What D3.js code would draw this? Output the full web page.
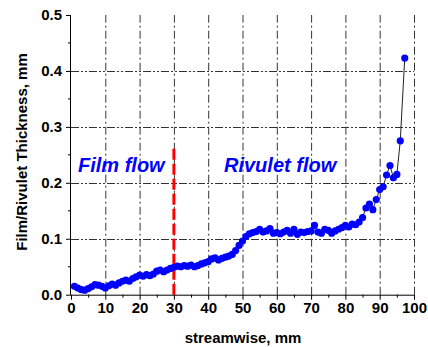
<!DOCTYPE html>
<html><head><meta charset="utf-8">
<script src="https://cdn.jsdelivr.net/npm/d3@7"></script>
<style>body{margin:0;background:#fff}svg{display:block}text{font-family:"Liberation Sans",Arial,sans-serif}</style>
</head><body>
<svg id="c" width="428" height="347"></svg>
<script>
const xPos = [1,2,3,4,5,6,7,8,9,10,11,12,13,14,15,16,17,18,19,20,21,22,23,24,25,26,27,28,29,30,31,32,33,34,35,36,37,38,39,40,41,42,43,44,45,46,47,48,49,50,51,52,53,54,55,56,57,58,59,60,61,62,63,64,65,66,67,68,69,70,71,72,73,74,75,76,77,78,79,80,81,82,83,84,85,86,87,88,89,90,91,92,93,94,95,96,97.3];
const thickness = [0.015,0.012,0.009,0.008,0.011,0.014,0.018,0.017,0.015,0.012,0.016,0.019,0.017,0.021,0.024,0.026,0.024,0.029,0.032,0.035,0.033,0.036,0.034,0.037,0.042,0.044,0.041,0.044,0.047,0.049,0.051,0.050,0.052,0.051,0.053,0.050,0.052,0.055,0.057,0.059,0.064,0.066,0.062,0.065,0.067,0.069,0.072,0.079,0.088,0.096,0.104,0.109,0.111,0.113,0.117,0.112,0.114,0.118,0.110,0.111,0.109,0.112,0.115,0.110,0.117,0.108,0.112,0.111,0.113,0.114,0.124,0.112,0.110,0.117,0.115,0.110,0.114,0.117,0.120,0.124,0.121,0.126,0.125,0.130,0.138,0.155,0.162,0.152,0.170,0.188,0.193,0.214,0.231,0.209,0.215,0.275,0.423];
const xTicks = [0,10,20,30,40,50,60,70,80,90,100];
const xMinor = [5,15,25,35,45,55,65,75,85,95];
const yTicks = [0,0.1,0.2,0.3,0.4,0.5];
const yMinor = [0.05,0.15,0.25,0.35,0.45];
const xGrid = [10,20,30,40,50,60,70,80,90,100];
const yGrid = [0.1,0.2,0.3,0.4];
const boundaryX = 30, boundaryTop = 0.267;
const labels = {y:"Film/Rivulet Thickness, mm", x:"streamwise, mm", film:"Film flow", rivulet:"Rivulet flow"};

const svg = d3.select("#c");
const x = d3.scaleLinear().domain([0,100]).range([71,414]);
const y = d3.scaleLinear().domain([0,0.5]).range([294.7,15]);

// grid
svg.append("g").selectAll("line").data(xGrid).join("line")
  .attr("x1",d=>x(d)+0.5).attr("x2",d=>x(d)+0.5).attr("y1",y(0)).attr("y2",y(0.5))
  .attr("stroke","#333").attr("stroke-width",1).attr("stroke-dasharray","8,3,2,3");
svg.append("g").selectAll("line").data(yGrid).join("line")
  .attr("x1",x(0)).attr("x2",x(100)).attr("y1",d=>Math.round(y(d))+0.5).attr("y2",d=>Math.round(y(d))+0.5)
  .attr("stroke","#333").attr("stroke-width",1).attr("stroke-dasharray","8,2,2,2,2,2");

// axes
const xAxis = d3.axisBottom(x).tickValues(xTicks).tickSize(5).tickPadding(3).tickFormat(d3.format("d"));
const gx = svg.append("g").attr("transform",`translate(0,${y(0)})`).call(xAxis);
gx.append("g").selectAll("line").data(xMinor).join("line")
  .attr("x1",d=>x(d)+0.5).attr("x2",d=>x(d)+0.5).attr("y1",0).attr("y2",3).attr("stroke","#000");
const yAxis = d3.axisLeft(y).tickValues(yTicks).tickSize(5).tickPadding(4).tickFormat(d3.format(".1f"));
const gy = svg.append("g").attr("transform",`translate(${x(0)},0)`).call(yAxis);
gy.append("g").selectAll("line").data(yMinor).join("line")
  .attr("x1",-3).attr("x2",0).attr("y1",d=>y(d)).attr("y2",d=>y(d)).attr("stroke","#000");
[gx,gy].forEach(g=>{
  g.select(".domain").attr("stroke","#000");
  g.selectAll(".tick line").attr("stroke","#000");
  g.selectAll(".tick text").attr("font-size",15).attr("font-weight","bold").attr("fill","#000")
   .attr("font-family","'Liberation Sans',Arial,sans-serif");
});
gx.select(".domain").attr("d",`M${x(0)},0.5H${x(100)}`);
gy.select(".domain").attr("d",`M-0.5,${y(0)}V${y(0.5)}`);

// boundary
svg.append("line").attr("x1",x(boundaryX)).attr("x2",x(boundaryX))
  .attr("y1",y(0)).attr("y2",y(boundaryTop))
  .attr("stroke","#ff0000").attr("stroke-width",3).attr("stroke-dasharray","11,4");

// data
const pts = xPos.map((d,i)=>[d,thickness[i]]);
svg.append("path").datum(pts).attr("fill","none").attr("stroke","#222").attr("stroke-width",1)
  .attr("d",d3.line().x(d=>x(d[0])).y(d=>y(d[1])));
svg.append("g").selectAll("circle").data(pts).join("circle")
  .attr("cx",d=>x(d[0])).attr("cy",d=>y(d[1])).attr("r",3.6).attr("fill","#0000ff");

// text
svg.append("text").attr("x",78).attr("y",171.5).attr("font-size",20).attr("font-weight","bold")
  .attr("font-style","italic").attr("fill","#0000ff").text(labels.film);
svg.append("text").attr("x",224).attr("y",171.5).attr("font-size",20).attr("font-weight","bold")
  .attr("font-style","italic").attr("fill","#0000ff").text(labels.rivulet);
svg.append("text").attr("x",243).attr("y",343).attr("text-anchor","middle").attr("font-size",15)
  .attr("font-weight","bold").attr("fill","#000").text(labels.x);
svg.append("text").attr("transform","translate(27,152) rotate(-90)").attr("text-anchor","middle")
  .attr("font-size",15).attr("font-weight","bold").attr("fill","#000").text(labels.y);
</script>
</body></html>
